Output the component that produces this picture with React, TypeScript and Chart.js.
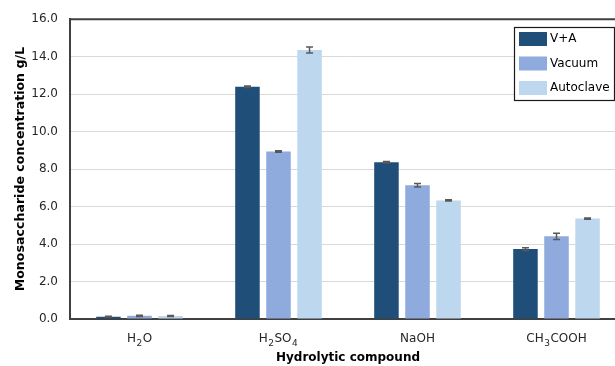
import { useEffect, useRef } from "react";
import { Chart, registerables } from "chart.js";

Chart.register(...registerables);

// Categories and series
const categories = ["H₂O", "H₂SO₄", "NaOH", "CH₃COOH"];
const seriesNames = ["V+A", "Vacuum", "Autoclave"];
const seriesColors = ["#1F4E79", "#8FAADC", "#BDD7EE"];

// Monosaccharide concentration (g/L)
const vaValues = [0.12, 12.39, 8.37, 3.73];
const vacuumValues = [0.17, 8.94, 7.14, 4.41];
const autoclaveValues = [0.16, 14.35, 6.33, 5.36];

// Standard deviations
const vaErrors = [0.03, 0.04, 0.04, 0.07];
const vacuumErrors = [0.03, 0.04, 0.09, 0.17];
const autoclaveErrors = [0.03, 0.16, 0.03, 0.03];

// Y axis ticks
const yTicks = [0, 2, 4, 6, 8, 10, 12, 14, 16];

const FONT = "'DejaVu Sans', Verdana, sans-serif";
const TEXT_COLOR = "#262626";
const AXIS_COLOR = "#404040";

const values = [vaValues, vacuumValues, autoclaveValues];
const errors = [vaErrors, vacuumErrors, autoclaveErrors];

const SUBSCRIPTS: Record<string, string> = {
  "₀": "0", "₁": "1", "₂": "2", "₃": "3", "₄": "4",
  "₅": "5", "₆": "6", "₇": "7", "₈": "8", "₉": "9",
};

// Split a formula into normal and subscript runs
function splitFormula(text: string) {
  const runs: { text: string; sub: boolean }[] = [];
  for (const ch of text) {
    const sub = ch in SUBSCRIPTS;
    const c = sub ? SUBSCRIPTS[ch] : ch;
    const last = runs[runs.length - 1];
    if (last && last.sub === sub) last.text += c;
    else runs.push({ text: c, sub });
  }
  return runs;
}

const errorBarPlugin = {
  id: "errorBars",
  afterDatasetsDraw(chart: any) {
    const ctx = chart.ctx;
    const yScale = chart.scales.y;
    ctx.save();
    ctx.strokeStyle = "#595959";
    ctx.lineWidth = 1.5;
    chart.data.datasets.forEach((ds: any, di: number) => {
      const meta = chart.getDatasetMeta(di);
      meta.data.forEach((bar: any, i: number) => {
        const v = ds.data[i];
        const e = ds.errors[i];
        const x = bar.x;
        const yHi = yScale.getPixelForValue(v + e);
        const yLo = yScale.getPixelForValue(v - e);
        const cap = 3.5;
        ctx.beginPath();
        ctx.moveTo(x, yHi);
        ctx.lineTo(x, yLo);
        ctx.moveTo(x - cap, yHi);
        ctx.lineTo(x + cap, yHi);
        ctx.moveTo(x - cap, yLo);
        ctx.lineTo(x + cap, yLo);
        ctx.stroke();
      });
    });
    ctx.restore();
  },
};

const categoryLabelPlugin = {
  id: "categoryLabels",
  afterDraw(chart: any) {
    const ctx = chart.ctx;
    const xScale = chart.scales.x;
    const baseline = chart.chartArea.bottom + 23;
    const mainFont = `12px ${FONT}`;
    const subFont = `9px ${FONT}`;
    ctx.save();
    ctx.fillStyle = TEXT_COLOR;
    ctx.textBaseline = "alphabetic";
    ctx.textAlign = "left";
    categories.forEach((label, i) => {
      const runs = splitFormula(label);
      let total = 0;
      const widths = runs.map((r) => {
        ctx.font = r.sub ? subFont : mainFont;
        const w = ctx.measureText(r.text).width + (r.sub ? 1 : 0);
        total += w;
        return w;
      });
      let x = xScale.getPixelForValue(i) - total / 2;
      runs.forEach((r, k) => {
        ctx.font = r.sub ? subFont : mainFont;
        ctx.fillText(r.text, r.sub ? x + 0.5 : x, r.sub ? baseline + 3.5 : baseline);
        x += widths[k];
      });
    });
    ctx.restore();
  },
};

const frameAndLegendPlugin = {
  id: "frameAndLegend",
  afterDraw(chart: any) {
    const ctx = chart.ctx;
    const area = chart.chartArea;
    ctx.save();
    // top frame line
    ctx.strokeStyle = AXIS_COLOR;
    ctx.lineWidth = 2;
    ctx.beginPath();
    ctx.moveTo(area.left - 1, area.top);
    ctx.lineTo(area.right, area.top);
    ctx.stroke();

    // legend box
    const bx = 514.5;
    const by = 27.5;
    const bw = 100;
    const bh = 73;
    ctx.fillStyle = "#ffffff";
    ctx.fillRect(bx, by, bw, bh);
    ctx.strokeStyle = "#1a1a1a";
    ctx.lineWidth = 1.2;
    ctx.strokeRect(bx, by, bw, bh);

    const rows = [39, 63.5, 88];
    ctx.font = `12px ${FONT}`;
    ctx.textBaseline = "middle";
    ctx.textAlign = "left";
    chart.data.datasets.forEach((ds: any, i: number) => {
      ctx.fillStyle = ds.backgroundColor;
      ctx.fillRect(519, rows[i] - 7, 28, 14);
      ctx.fillStyle = "#000000";
      ctx.fillText(ds.label, 550, rows[i]);
    });
    ctx.restore();
  },
};

export default function App() {
  const canvasRef = useRef<HTMLCanvasElement | null>(null);

  useEffect(() => {
    document.body.style.margin = "0";
    const canvas = canvasRef.current;
    if (!canvas) return;
    const chart = new Chart(canvas, {
      type: "bar",
      data: {
        labels: categories,
        datasets: seriesNames.map((name, i) => ({
          label: name,
          data: values[i],
          errors: errors[i],
          backgroundColor: seriesColors[i],
          borderWidth: 0,
          categoryPercentage: 0.67,
          barPercentage: 0.79,
        })) as any,
      },
      options: {
        responsive: false,
        animation: false,
        devicePixelRatio: 1,
        layout: { padding: { top: 18, right: 14, left: 0, bottom: 0 } },
        plugins: {
          legend: { display: false },
          tooltip: { enabled: false },
        },
        scales: {
          x: {
            grid: { display: false, drawTicks: false },
            border: { display: true, color: AXIS_COLOR, width: 2 },
            ticks: { display: false },
            title: {
              display: true,
              text: "Hydrolytic compound",
              color: "#000000",
              font: { family: FONT, size: 12, weight: "bold" },
              padding: { top: 0, bottom: 1 },
            },
            afterFit(scale: any) {
              scale.height = 47;
            },
          },
          y: {
            min: 0,
            max: 16,
            afterBuildTicks(scale: any) {
              scale.ticks = yTicks.map((v) => ({ value: v }));
            },
            grid: { color: "#D9D9D9", lineWidth: 1, drawTicks: false },
            border: { display: true, color: AXIS_COLOR, width: 2 },
            ticks: {
              padding: 12,
              color: TEXT_COLOR,
              font: { family: FONT, size: 12 },
              callback: (v: any) => Number(v).toFixed(1),
            },
            title: {
              display: true,
              text: "Monosaccharide concentration g/L",
              color: "#000000",
              font: { family: FONT, size: 12.6, weight: "bold" },
              padding: { top: 13, bottom: 0 },
            },
            afterFit(scale: any) {
              scale.width = 70;
            },
          },
        },
      },
      plugins: [errorBarPlugin, categoryLabelPlugin, frameAndLegendPlugin],
    });
    return () => chart.destroy();
  }, []);

  return (
    <div style={{ width: 615, height: 366, overflow: "hidden", position: "relative" }}>
      <canvas ref={canvasRef} width={640} height={366} style={{ display: "block" }} />
    </div>
  );
}
